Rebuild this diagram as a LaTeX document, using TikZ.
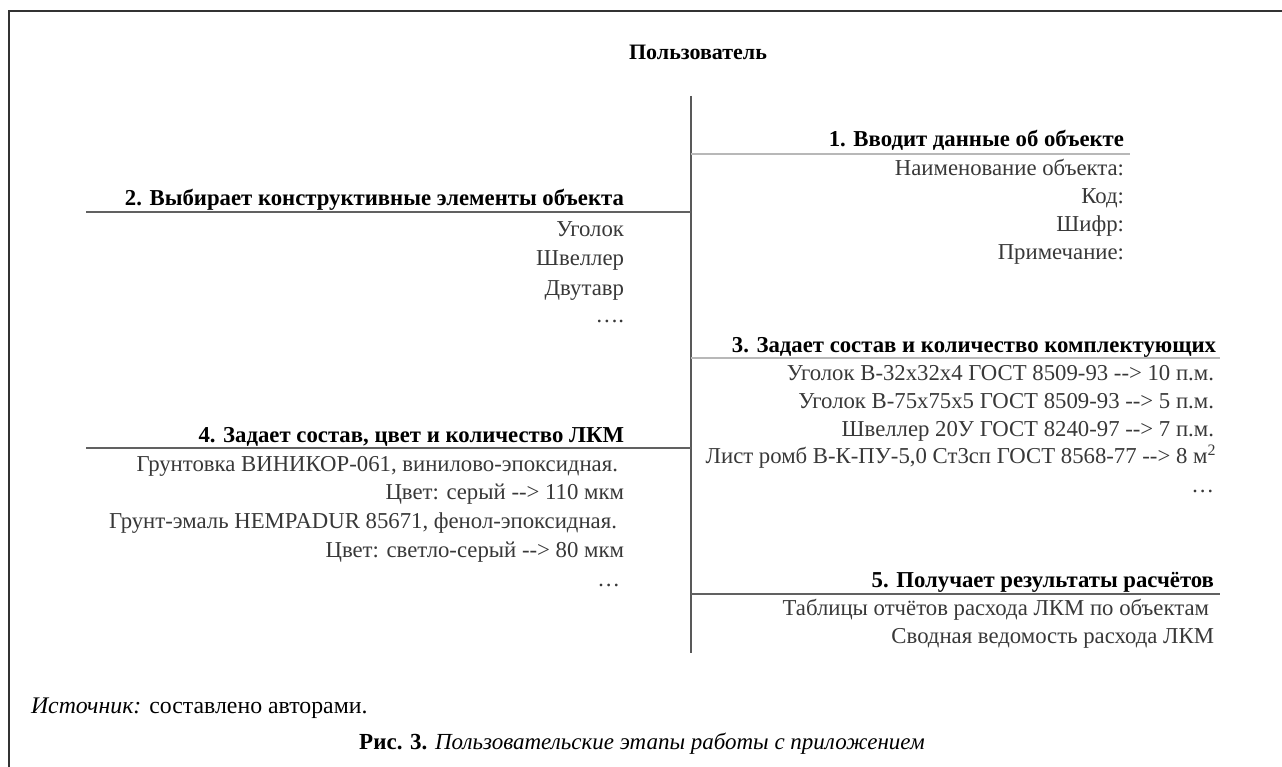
\documentclass[tikz,border=0pt]{standalone}
\usepackage{fontspec}
\setmainfont{Liberation Serif}
\newcommand\myarr{-\kern0pt-\kern0pt>}
\begin{document}
\begin{tikzpicture}[x=1pt,y=-1pt,
  every node/.style={inner sep=0pt, outer sep=0pt},
  head/.style={font=\fontsize{22.75}{26}\selectfont\bfseries, text=black, anchor=base east},
  item/.style={font=\fontsize{22.75}{26}\selectfont, text=black!78, anchor=base east},
  spine/.style={draw=black!65, line width=1.3pt},
  lightrule/.style={draw=black!28, line width=1.8pt},
  darkrule/.style={draw=black!62, line width=1.4pt},
  frame/.style={draw=black!80, line width=2pt}]
\useasboundingbox (0,0) rectangle (1282,767);
% frame
\coordinate (fBL) at (9,767);
\coordinate (fTL) at (9,11);
\coordinate (fTR) at (1282,11);
\draw[frame] (fBL) -- (fTL) -- (fTR);
% title and spine
\node[head, anchor=base, font=\fontsize{22}{26}\selectfont\bfseries] (user) at (698,60) {Пользователь};
\coordinate (sTop) at (691,96);
\coordinate (sBot) at (691,653);
\draw[spine] (sTop) -- (sBot);
% section 1
\node[head] (h1) at (1124,147) {1. Вводит данные об объекте};
\coordinate (r1a) at (691,154);
\coordinate (r1b) at (1130,154);
\draw[lightrule] (r1a) -- (r1b);
\node[item] (a1) at (1124,176) {Наименование объекта:};
\node[item] (a2) at (1124,204) {Код:};
\node[item] (a3) at (1124,232) {Шифр:};
\node[item] (a4) at (1124,260) {Примечание:};
% section 2
\node[head] (h2) at (624,206) {2. Выбирает конструктивные элементы объекта};
\coordinate (r2a) at (86,212);
\coordinate (r2b) at (691,212);
\draw[darkrule] (r2a) -- (r2b);
\node[item] (b1) at (624,237) {Уголок};
\node[item] (b2) at (624,266) {Швеллер};
\node[item] (b3) at (624,295) {Двутавр};
\node[item] (b4) at (624,323) {….};
% section 3
\node[head] (h3) at (1216,352) {3. Задает состав и количество комплектующих};
\coordinate (r3a) at (691,358);
\coordinate (r3b) at (1220,358);
\draw[lightrule] (r3a) -- (r3b);
\node[item] (c1) at (1214,380) {Уголок В-32х32х4 ГОСТ 8509-93 \myarr{} 10 п.м.};
\node[item] (c2) at (1214,408) {Уголок В-75х75х5 ГОСТ 8509-93 \myarr{} 5 п.м.};
\node[item] (c3) at (1214,436) {Швеллер 20У ГОСТ 8240-97 \myarr{} 7 п.м.};
\node[item] (c4) at (1216,463) {Лист ромб В-К-ПУ-5,0 Ст3сп ГОСТ 8568-77 \myarr{} 8 м\textsuperscript{2}};
\node[item] (c5) at (1214,492) {…};
% section 4
\node[head] (h4) at (624,442) {4. Задает состав, цвет и количество ЛКМ};
\coordinate (r4a) at (86,448);
\coordinate (r4b) at (691,448);
\draw[darkrule] (r4a) -- (r4b);
\node[item] (d1) at (618,471) {Грунтовка ВИНИКОР-061, винилово-эпоксидная.};
\node[item] (d2) at (624,499) {Цвет: серый \myarr{} 110 мкм};
\node[item] (d3) at (617,528) {Грунт-эмаль HEMPADUR 85671, фенол-эпоксидная.};
\node[item] (d4) at (624,557) {Цвет: светло-серый \myarr{} 80 мкм};
\node[item] (d5) at (620,586) {…};
% section 5
\node[head] (h5) at (1214,587) {5. Получает результаты расчётов};
\coordinate (r5a) at (691,594);
\coordinate (r5b) at (1220,594);
\draw[darkrule] (r5a) -- (r5b);
\node[item] (e1) at (1209,615) {Таблицы отчётов расхода ЛКМ по объектам};
\node[item] (e2) at (1214,643) {Сводная ведомость расхода ЛКМ};
% source and caption
\node[anchor=base west, font=\fontsize{23.8}{27}\selectfont] (src) at (31,713) {\textit{Источник:} составлено авторами.};
\node[anchor=base, font=\fontsize{23}{27}\selectfont] (cap) at (642,749) {\textbf{Рис. 3.} \textit{Пользовательские этапы работы с приложением}};
\end{tikzpicture}
\end{document}
